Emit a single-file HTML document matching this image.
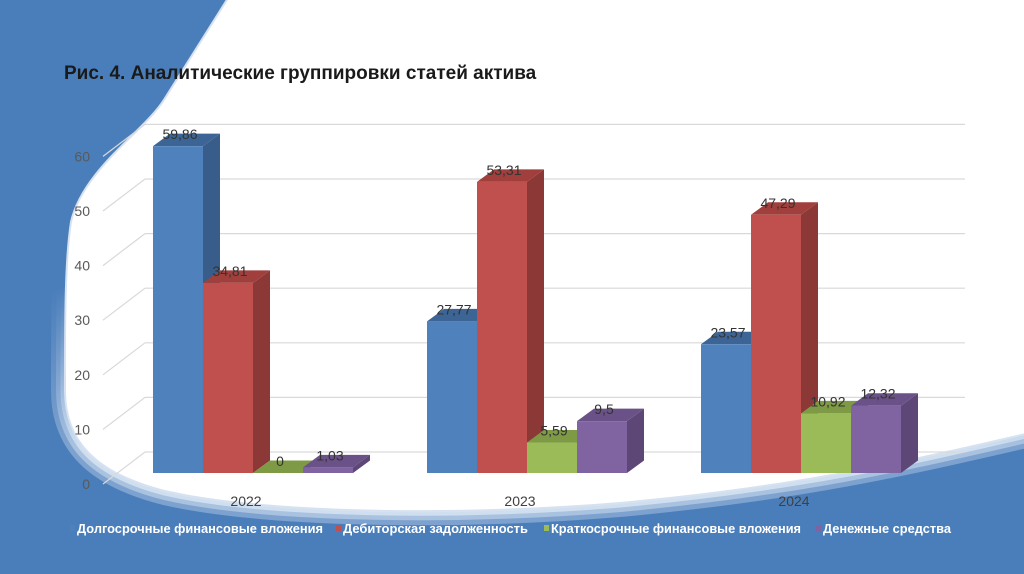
<!DOCTYPE html>
<html><head><meta charset="utf-8"><style>
html,body{margin:0;padding:0;width:1024px;height:574px;overflow:hidden;background:#4a7ebb;}
svg{display:block;font-family:"Liberation Sans",sans-serif;}
</style></head><body>
<svg width="1024" height="574" viewBox="0 0 1024 574">
<defs>
<path id="sw" d="M228,0 L1030,0 L1030,432 C900,462 800,485 620,502 C450,516 260,512 165,490 C95,472 66,440 66,390 C66,320 66,260 72,222 C84,170 145,132 165,100 L228,0 Z"/>
<linearGradient id="fade" x1="0" y1="0" x2="0" y2="574" gradientUnits="userSpaceOnUse">
<stop offset="0.5" stop-color="#000"/><stop offset="0.78" stop-color="#fff"/>
</linearGradient>
<mask id="bot"><rect width="1024" height="574" fill="url(#fade)"/></mask>
</defs>
<rect width="1024" height="574" fill="#4a7ebb"/>
<g>
<g mask="url(#bot)">
<use href="#sw" fill="none" stroke="#7ea2cf" stroke-width="30"/>
<use href="#sw" fill="none" stroke="#a9c2e0" stroke-width="20"/>
<use href="#sw" fill="none" stroke="#d0dff0" stroke-width="11"/>
</g>
<use href="#sw" fill="none" stroke="#d6e2f1" stroke-width="4"/>
<use href="#sw" fill="#ffffff"/>
</g>
<text x="64" y="79" font-size="19" font-weight="bold" fill="#1a1a1a">Рис. 4. Аналитические группировки статей актива</text>
<g id="axes"></g>
<g id="bars"></g>
<g id="legend"></g>
</svg>
<script>
const categories=["2022","2023","2024"];
const seriesNames=["Долгосрочные финансовые вложения","Дебиторская задолженность","Краткосрочные финансовые вложения","Денежные средства"];
const longTerm=[59.86,27.77,23.57];
const receivables=[34.81,53.31,47.29];
const shortTerm=[0,5.59,10.92];
const cash=[1.03,9.5,12.32];
const valueLabels=[["59,86","27,77","23,57"],["34,81","53,31","47,29"],["0","5,59","10,92"],["1,03","9,5","12,32"]];
const ticks=[0,10,20,30,40,50,60];

const NS="http://www.w3.org/2000/svg";
const series=[longTerm,receivables,shortTerm,cash];
const cols=[["#4f81bd","#385d8a","#3c6596"],["#c0504d","#8c3836","#a03f3c"],["#9bbb59","#71893f","#7e9a45"],["#8064a2","#5c4776","#6a5187"]];
const S=5.46, front0=473, back0=452;
const yF=v=>front0-v*S, yB=v=>back0-v*S;
const gx=i=>153+i*274, bw=50, dx=17, dy=12.5;
function el(t,a,p){const e=document.createElementNS(NS,t);for(const k in a)e.setAttribute(k,a[k]);p.appendChild(e);return e;}
const axes=document.getElementById('axes');
ticks.forEach(t=>{
  const g=el('line',{x1:145,x2:965,y1:yB(t),y2:yB(t),stroke:'#d9d9d9','stroke-width':1.2},axes);
  
  
  const d=el('line',{x1:103,y1:yB(t)+32,x2:145,y2:yB(t),stroke:'#d9d9d9','stroke-width':1.2},axes);
  
  
  const l=el('text',{x:90,y:yB(t)+37,'text-anchor':'end','font-size':14,fill:'#595959'},axes);
  l.textContent=t;
  
  
});
categories.forEach((c,i)=>{
  const l=el('text',{x:gx(i)+93,y:506,'text-anchor':'middle','font-size':14,fill:'#404040'},axes);
  l.textContent=c;
  
  
});
const bars=document.getElementById('bars');
categories.forEach((c,i)=>{
  series.forEach((s,j)=>{
    const v=s[i], x=gx(i)+j*bw, yt=yF(v), yb=front0;
    const g=el('g',{},bars);
    
    
    el('polygon',{points:`${x+bw},${yt} ${x+bw+dx},${yt-dy} ${x+bw+dx},${yb-dy} ${x+bw},${yb}`,fill:cols[j][1]},g);
    el('polygon',{points:`${x},${yt} ${x+dx},${yt-dy} ${x+bw+dx},${yt-dy} ${x+bw},${yt}`,fill:cols[j][2]},g);
    el('rect',{x:x,y:yt,width:bw,height:yb-yt,fill:cols[j][0]},g);
    const t=el('text',{x:x+bw/2+2,y:yt-7,'text-anchor':'middle','font-size':14,fill:'#333'},bars);
    t.textContent=valueLabels[j][i];
    
    
  });
});
const leg=document.getElementById('legend');
const lx=[70,336,544,816];
const lw=[246,185,250,128];
seriesNames.forEach((n,j)=>{
  const g=el('g',{},leg);
  
  
  el('rect',{x:lx[j],y:525,width:5,height:6,fill:cols[j][0]},g);
  const t=el('text',{x:lx[j]+7,y:533,'font-size':12.5,'font-weight':'bold',fill:'#fff',textLength:lw[j],lengthAdjust:'spacingAndGlyphs'},g);
  t.textContent=n;
});
</script>
</body></html>
